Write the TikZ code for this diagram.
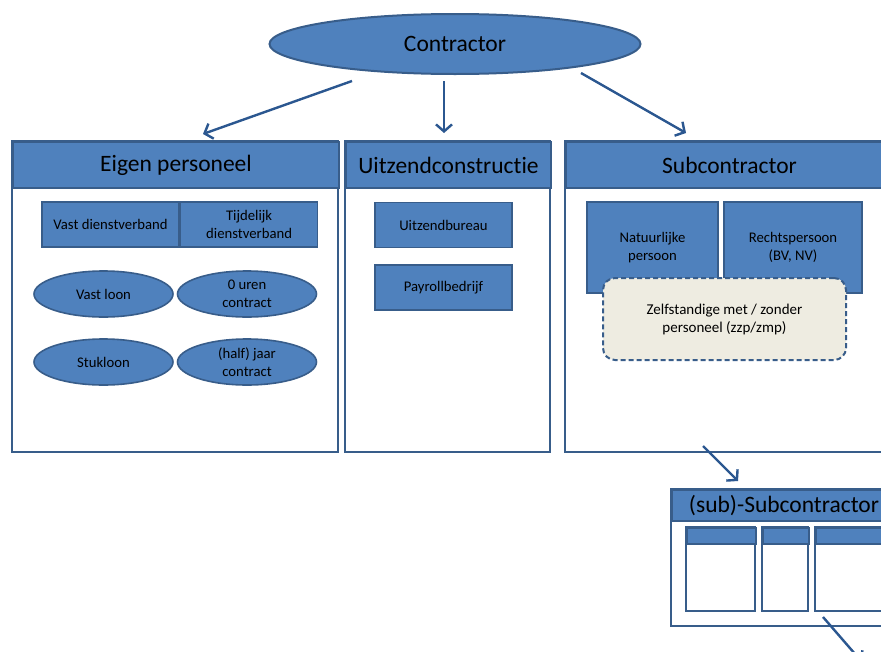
\documentclass[tikz,border=0pt]{standalone}
\usepackage{fontspec}
\setmainfont{Carlito}[Ligatures=NoCommon]
\usetikzlibrary{arrows.meta, positioning, shapes.geometric}
\definecolor{boxfill}{HTML}{4F81BD}
\definecolor{boxline}{HTML}{385D8A}
\definecolor{arrowline}{HTML}{2B5790}
\definecolor{zzpfill}{HTML}{EEECE1}

\begin{document}
\begin{tikzpicture}[x=1pt, y=-1pt,
    head/.style={rectangle, draw=boxline, fill=boxfill, line width=2pt, anchor=north west, inner sep=0pt, font=\fontsize{23.5}{26}\selectfont},
    frame/.style={draw=boxline, line width=2pt},
    cell/.style={rectangle, draw=boxline, fill=boxfill, line width=1.6pt, inner sep=0pt, align=center, minimum width=137pt, minimum height=45pt, font=\fontsize{14.7}{17.5}\selectfont},
    oval/.style={ellipse, draw=boxline, fill=boxfill, line width=1.6pt, inner sep=0pt, align=center, minimum width=139pt, minimum height=46pt, font=\fontsize{14.7}{17.5}\selectfont},
    link/.style={draw=arrowline, line width=2.4pt, -{Straight Barb[length=7pt, width=16pt, line width=2.4pt]}},
    node distance=1cm]
        \clip (0,0) rectangle (881,651);
        \fill[white] (0,0) rectangle (881,651);

        % top node
        \node[oval, minimum width=371pt, minimum height=60pt, line width=2pt, font=\fontsize{23.5}{26}\selectfont] (contr) at (455,44) {Contractor};

        % three panels
        \draw[frame] (12,141) rectangle (338,452);
        \node[head, minimum width=326pt, minimum height=46pt] (eigen) at (12,141) {Eigen personeel};
        \draw[frame] (345,141) rectangle (550,452);
        \node[head, minimum width=205pt, minimum height=46pt] (uitz) at (345,141) {Uitzendconstructie};
        \draw[frame] (565,141) rectangle (892,452);
        \node[head, minimum width=327pt, minimum height=46pt] (sub) at (565,141) {Subcontractor};

        % eigen personeel
        \node[cell] (vast) at (110.5,224.5) {Vast dienstverband};
        \node[cell] (tijd) [right = 0pt of vast] {Tijdelijk\\dienstverband};
        \node[oval] (vloon) at (103.5,294) {Vast loon};
        \node[oval] (nuren) at (247,294) {0 uren\\contract};
        \node[oval] (stuk) at (103.5,362) {Stukloon};
        \node[oval] (jaar) at (247,362) {(half) jaar\\contract};

        % uitzendconstructie
        \node[cell] (bureau) at (443.5,225) {Uitzendbureau};
        \node[cell] (payroll) [below = 16pt of bureau] {Payrollbedrijf};

        % subcontractor
        \node[cell, minimum width=131pt, minimum height=91pt] (natuur) at (652.5,247.5) {Natuurlijke\\persoon};
        \node[cell, minimum width=138pt, minimum height=91pt] (rechts) at (793,247.5) {Rechtspersoon\\(BV, NV)};
        \node[rectangle, rounded corners=12pt, draw=boxline, fill=zzpfill, line width=2pt, dashed, dash pattern=on 5pt off 3pt, minimum width=243pt, minimum height=82pt, align=center, font=\fontsize{15}{18}\selectfont] (zzp) at (724.5,319) {Zelfstandige met / zonder\\personeel (zzp/zmp)};

        % (sub)-subcontractor
        \draw[frame] (671,489) rectangle (895,626);
        \node[head, minimum width=224pt, minimum height=31pt] (subsub) at (671,489) {(sub)-Subcontractor};
        \draw[frame, line width=1.6pt, fill=white] (686,527) rectangle (755,611);
        \node[head, line width=1.6pt, minimum width=69pt, minimum height=16pt] (kol1) at (686,527) {};
        \draw[frame, line width=1.6pt, fill=white] (762,527) rectangle (808,611);
        \node[head, line width=1.6pt, minimum width=46pt, minimum height=16pt] (kol2) at (762,527) {};
        \draw[frame, line width=1.6pt, fill=white] (815,527) rectangle (900,611);
        \node[head, line width=1.6pt, minimum width=85pt, minimum height=16pt] (kol3) at (815,527) {};

        % arrows
        \coordinate (c_l) at (352,81);
        \coordinate (c_m) at (444,81);
        \coordinate (c_r) at (581,73);
        \coordinate (e_in) at (203,134);
        \coordinate (u_in) at (444,133);
        \coordinate (s_in) at (686,133);
        \coordinate (s_out) at (703,446);
        \coordinate (ss_in) at (738,481);
        \coordinate (ss_out) at (823,617);
        \coordinate (next_in) at (862,662);
        \path[link] (c_l) -- (e_in);
        \path[link] (c_m) -- (u_in);
        \path[link] (c_r) -- (s_in);
        \path[link] (s_out) -- (ss_in);
        \path[link] (ss_out) -- (next_in);
\end{tikzpicture}
\end{document}
